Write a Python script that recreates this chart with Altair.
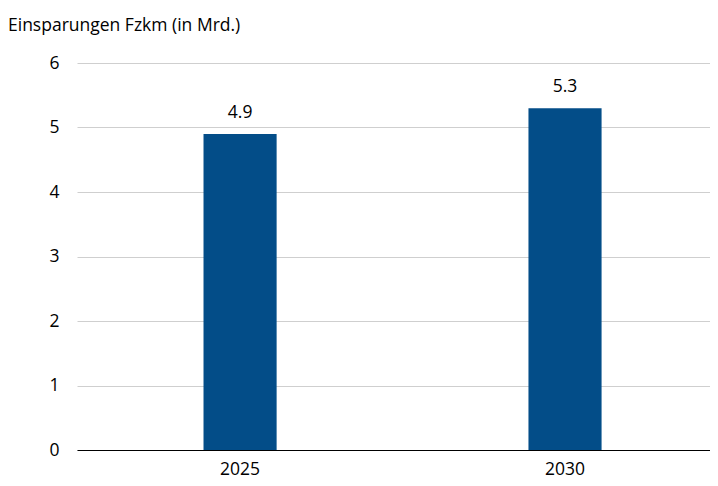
import altair as alt
import pandas as pd

years = ["2025", "2030"]
values = [4.9, 5.3]
labels = ["4.9", "5.3"]
y_ticks = [0, 1, 2, 3, 4, 5, 6]
title_text = "Einsparungen Fzkm (in Mrd.)"

df = pd.DataFrame({"year": years, "value": values, "label": labels})

FONT = "Open Sans"
FS = 17.5

x_enc = alt.X(
    "year:N",
    sort=years,
    title=None,
    scale=alt.Scale(paddingInner=0.775, paddingOuter=0.3615, align=0.5385),
    axis=alt.Axis(
        labelAngle=0, ticks=False, domainColor="#000000", domainWidth=1.2,
        labelFontSize=FS, labelColor="#000000", labelFont=FONT, labelPadding=10,
        grid=False,
    ),
)

base = alt.Chart(df).encode(x=x_enc)

bars = base.mark_bar(color="#034D88").encode(
    y=alt.Y(
        "value:Q",
        title=None,
        scale=alt.Scale(domain=[0, 6], nice=False),
        axis=alt.Axis(
            values=y_ticks, format="d", domain=False, ticks=False, gridColor="#cfcfcf",
            gridWidth=1, labelFontSize=FS, labelColor="#000000", labelFont=FONT,
            labelPadding=18,
        ),
    )
)

text = base.mark_text(
    baseline="bottom", dy=-12, fontSize=FS, font=FONT, color="#000000"
).encode(y="value:Q", text="label:N")

chart = (
    alt.layer(bars, text)
    .properties(
        width=633,
        height=387,
        padding={"left": 69, "top": 55, "right": 0, "bottom": 34},
        autosize=alt.AutoSizeParams(type="none"),
        title=alt.TitleParams(
            text=title_text, anchor="start", frame="group", dx=-69, offset=20,
            fontSize=FS, font=FONT, fontWeight="normal", color="#000000",
        ),
    )
    .configure_view(stroke=None)
)

chart.save("out.html", embed_options={"renderer": "svg", "actions": False})
